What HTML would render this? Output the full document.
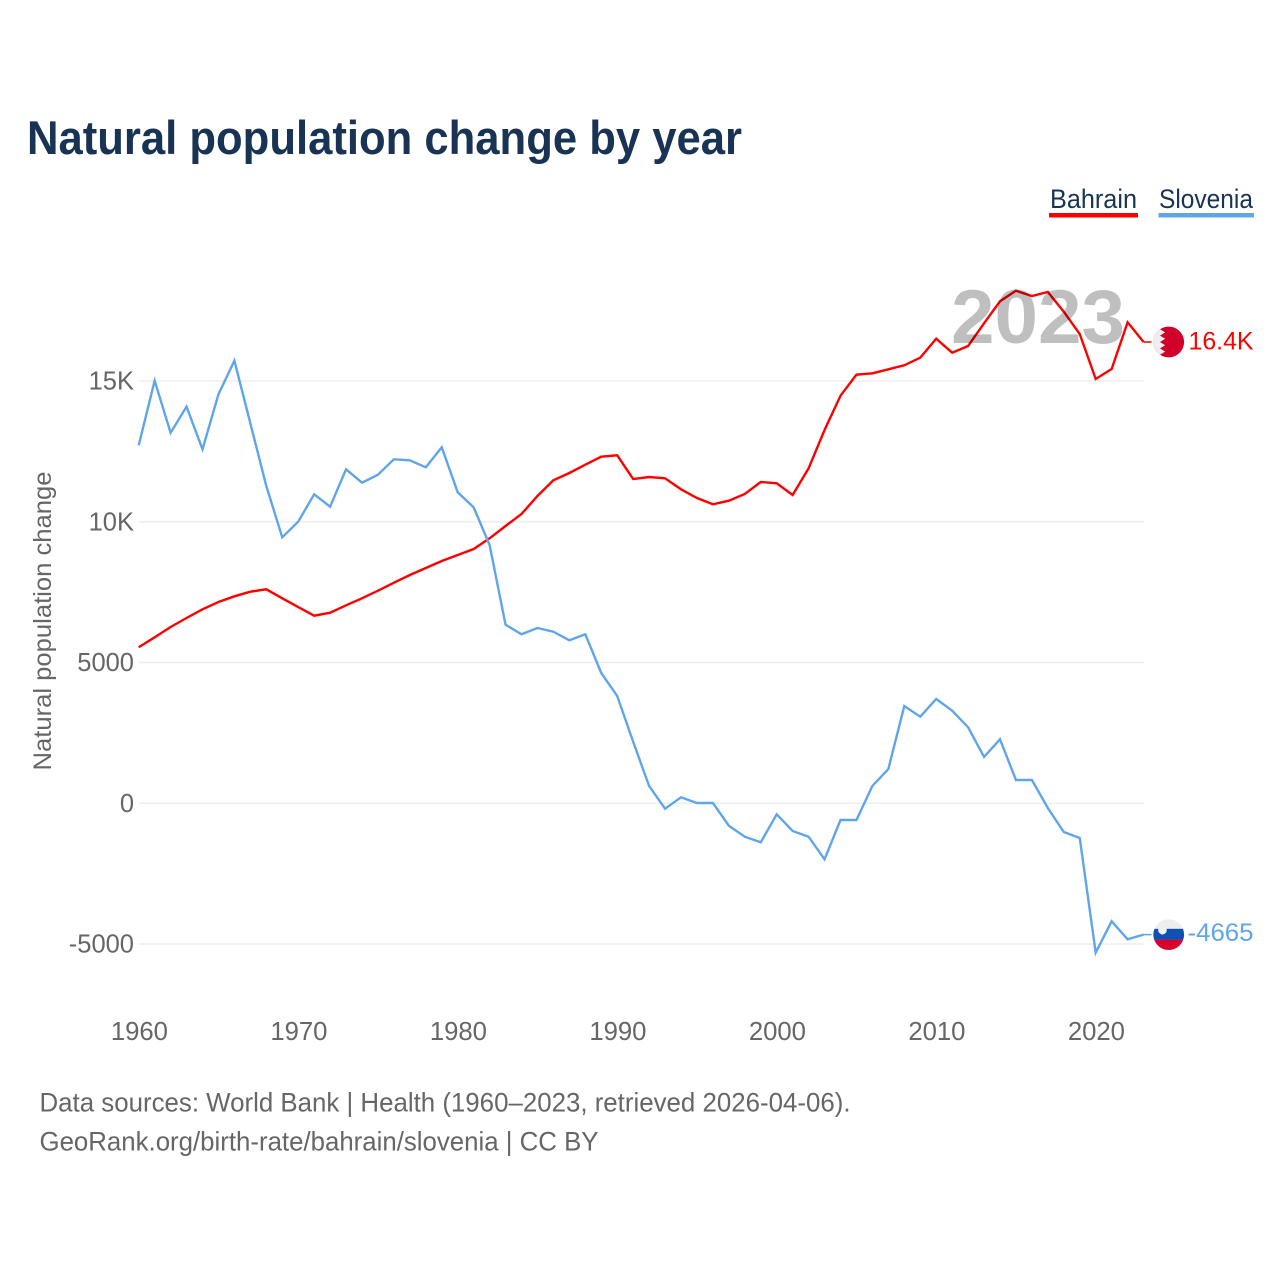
<!DOCTYPE html>
<html lang="en">
<head>
<meta charset="utf-8">
<title>Natural population change by year</title>
<style>
html,body{margin:0;padding:0;background:#fff}
svg{display:block}
text{font-family:"Liberation Sans",sans-serif}
</style>
</head>
<body>
<svg id="chart" width="1280" height="1280" viewBox="0 0 1280 1280" xmlns="http://www.w3.org/2000/svg">
  <rect width="1280" height="1280" fill="#fff"/>
  <text x="27" y="154" font-size="47" font-weight="700" fill="#183353" textLength="715" lengthAdjust="spacingAndGlyphs">Natural population change by year</text>

  <g>
    <text x="1050" y="208" font-size="27" fill="#183353" textLength="87" lengthAdjust="spacingAndGlyphs">Bahrain</text>
    <rect x="1049" y="213" width="89" height="4.5" fill="#ff0000"/>
  </g>
  <g>
    <text x="1159" y="208" font-size="27" fill="#183353" textLength="94" lengthAdjust="spacingAndGlyphs">Slovenia</text>
    <rect x="1158.5" y="213" width="95.5" height="4.5" fill="#60a5ea"/>
  </g>

  <text transform="translate(51 621) rotate(-90)" text-anchor="middle" font-size="25" fill="#666" textLength="299" lengthAdjust="spacingAndGlyphs">Natural population change</text>

  <g id="grid"></g>
  <g id="yticks"></g>
  <g id="xticks"></g>
  <g id="series"></g>

  <text x="951" y="343" font-size="76" font-weight="700" fill="#000" fill-opacity="0.25" textLength="174" lengthAdjust="spacingAndGlyphs">2023</text>

  <defs>
    <clipPath id="flag-clip"><circle cx="0" cy="0" r="15.4"/></clipPath>
  </defs>
  <g id="flag-bahrain">
    <g clip-path="url(#flag-clip)">
      <rect x="-16" y="-16" width="32" height="32" fill="#d0002a"/>
      <polygon points="-16,-16 -3.5,-16 -8.7,-12.8 -3.5,-9.6 -8.7,-6.4 -3.5,-3.2 -8.7,0 -3.5,3.2 -8.7,6.4 -3.5,9.6 -8.7,12.8 -3.5,16 -16,16" fill="#eeeeee"/>
    </g>
  </g>
  <g id="flag-slovenia">
    <g clip-path="url(#flag-clip)">
      <rect x="-16" y="-16" width="32" height="11" fill="#eeeeee"/>
      <rect x="-16" y="-5.8" width="32" height="11" fill="#0c52b5"/>
      <rect x="-16" y="5" width="32" height="11.2" fill="#d9002c"/>
      <path d="M-10.4,-6.6 Q-6.2,-8 -2,-6.6 L-2,-3.2 Q-3,-0.8 -6.2,0 Q-9.4,-0.8 -10.4,-3.2 Z" fill="#f2f2f2"/>
    </g>
  </g>
  <text id="label-bahrain" x="1253.5" text-anchor="end" font-size="25" fill="#ff0000" textLength="65" lengthAdjust="spacingAndGlyphs">16.4K</text>
  <text id="label-slovenia" x="1253.5" text-anchor="end" font-size="25" fill="#60a5ea" textLength="66" lengthAdjust="spacingAndGlyphs">-4665</text>

  <text x="39.5" y="1111.5" font-size="26.5" fill="#666" textLength="811" lengthAdjust="spacingAndGlyphs">Data sources: World Bank | Health (1960–2023, retrieved 2026-04-06).</text>
  <text x="39.5" y="1150.5" font-size="26.5" fill="#666" textLength="559" lengthAdjust="spacingAndGlyphs">GeoRank.org/birth-rate/bahrain/slovenia | CC BY</text>
</svg>
<script>
const firstYear = 1960;
const bahrainValues = [5542,5897,6263,6583,6892,7151,7353,7517,7602,7282,6973,6664,6771,7034,7282,7552,7836,8110,8359,8607,8821,9034,9414,9851,10277,10917,11474,11734,12028,12313,12362,11520,11591,11545,11155,10845,10622,10750,10988,11414,11368,10952,11900,13261,14480,15226,15275,15417,15560,15830,16505,16007,16245,17051,17833,18210,18021,18163,17464,16671,15073,15428,17087,16387];
const sloveniaValues = [12718,15012,13165,14089,12575,14529,15723,13499,11272,9449,10004,10977,10536,11865,11389,11673,12220,12185,11936,12647,11048,10515,9176,6345,6004,6227,6096,5790,6004,4629,3812,2188,615,-192,213,11,11,-796,-1187,-1385,-391,-984,-1187,-1989,-593,-593,615,1218,3456,3076,3705,3290,2700,1645,2274,828,828,-167,-1020,-1233,-5307,-4192,-4831,-4665];
const yTickValues = [15000,10000,5000,0,-5000];
const yTickLabels = ["15K","10K","5000","0","-5000"];
const xTickValues = [1960,1970,1980,1990,2000,2010,2020];

const SVG_NS = "http://www.w3.org/2000/svg";
const xScale = year => 138.7 + (year - 1960) * 15.95;
const yScale = value => 803.3 - value * 0.02815;

const grid = document.getElementById("grid");
const yticks = document.getElementById("yticks");
const xticks = document.getElementById("xticks");
const series = document.getElementById("series");

yTickValues.forEach((v, i) => {
  const line = document.createElementNS(SVG_NS, "line");
  
  
  line.setAttribute("x1", 139);
  line.setAttribute("x2", 1144);
  line.setAttribute("y1", yScale(v));
  line.setAttribute("y2", yScale(v));
  line.setAttribute("stroke", "#eeeeee");
  line.setAttribute("stroke-width", "1.5");
  grid.appendChild(line);

  const t = document.createElementNS(SVG_NS, "text");
  
  
  t.setAttribute("x", 134);
  t.setAttribute("y", yScale(v) + 8.5);
  t.setAttribute("text-anchor", "end");
  t.setAttribute("font-size", "25.5");
  t.setAttribute("fill", "#666");
  t.textContent = yTickLabels[i];
  yticks.appendChild(t);
});

xTickValues.forEach(v => {
  const t = document.createElementNS(SVG_NS, "text");
  
  
  t.setAttribute("x", xScale(v) + 0.7);
  t.setAttribute("y", 1040);
  t.setAttribute("text-anchor", "middle");
  t.setAttribute("font-size", "25.7");
  t.setAttribute("fill", "#666");
  t.textContent = String(v);
  xticks.appendChild(t);
});

function drawSeries(values, color, name) {
  const pts = values.map((v, i) => xScale(firstYear + i).toFixed(2) + "," + yScale(v).toFixed(2));
  const path = document.createElementNS(SVG_NS, "polyline");
  
  
  path.setAttribute("points", pts.join(" "));
  path.setAttribute("fill", "none");
  path.setAttribute("stroke", color);
  path.setAttribute("stroke-width", "2.4");
  path.setAttribute("stroke-linejoin", "miter");
  series.appendChild(path);

  const last = values[values.length - 1];
  const ly = yScale(last);
  const lead = document.createElementNS(SVG_NS, "line");
  
  
  lead.setAttribute("x1", xScale(firstYear + values.length - 1));
  lead.setAttribute("x2", 1151.5);
  lead.setAttribute("y1", ly);
  lead.setAttribute("y2", ly);
  lead.setAttribute("stroke", color);
  lead.setAttribute("stroke-width", "1.5");
  series.appendChild(lead);
  return ly;
}

const bahrainY = drawSeries(bahrainValues, "#ff0000", "series-line-bahrain");
const sloveniaY = drawSeries(sloveniaValues, "#60a5ea", "series-line-slovenia");

document.getElementById("flag-bahrain").setAttribute("transform", "translate(1168.7 " + bahrainY + ")");
document.getElementById("flag-slovenia").setAttribute("transform", "translate(1168.7 " + sloveniaY + ")");
document.getElementById("label-bahrain").setAttribute("y", bahrainY + 7.5);
document.getElementById("label-slovenia").setAttribute("y", sloveniaY + 6.5);
</script>
</body>
</html>
